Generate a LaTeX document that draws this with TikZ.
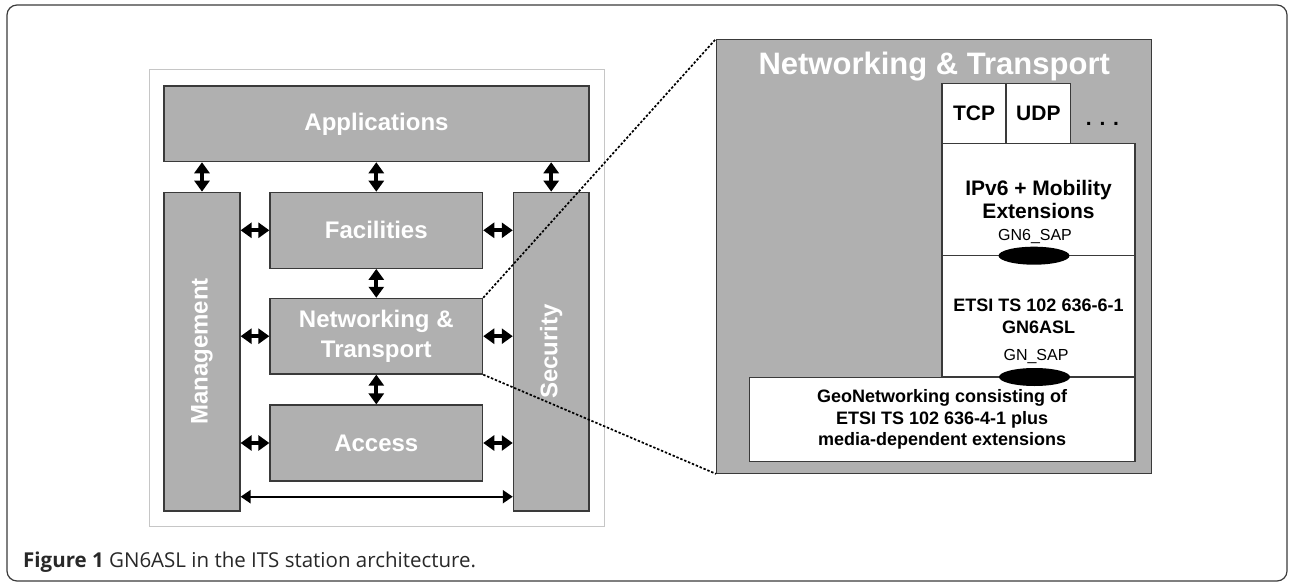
\documentclass[tikz,border=0pt]{standalone}
\usepackage{fontspec}
\setmainfont{Liberation Sans}
\newfontfamily\captionfont{Open Sans}
\usetikzlibrary{arrows.meta, shapes.geometric}

\definecolor{layergray}{RGB}{176,176,176}
\definecolor{edgegray}{RGB}{58,58,58}
\definecolor{captiongray}{RGB}{40,40,40}

\tikzset{
    layer/.style = {draw = edgegray, line width = 1.2pt, fill = layergray, text = white, align = center, inner sep = 0pt, font = \bfseries\fontsize{24}{30}\selectfont},
    stackbox/.style = {draw = edgegray, line width = 1.2pt, fill = white, align = center, inner sep = 0pt, font = \bfseries\fontsize{21}{23.5}\selectfont},
    etsibox/.style = {stackbox, font = \bfseries\fontsize{18}{21.3}\selectfont},
    sap/.style = {ellipse, fill = black, minimum width = 71pt, minimum height = 18pt, inner sep = 0pt},
    saplabel/.style = {inner sep = 0pt, font = \fontsize{16}{18}\selectfont},
    dblarrow/.style = {{Triangle[length = 11pt, width = 15pt]}-{Triangle[length = 11pt, width = 15pt]}, line width = 4pt},
    busarrow/.style = {{Triangle[length = 10pt, width = 13pt]}-{Triangle[length = 10pt, width = 13pt]}, line width = 2.2pt},
    zoomline/.style = {line width = 1.7pt, dash pattern = on 2.4pt off 1.8pt}
}

\begin{document}
\begin{tikzpicture}[x = 1pt, y = -1pt]
    \useasboundingbox (0,0) rectangle (1290,583);

    \draw [edgegray, line width = 1.2pt, rounded corners = 10pt] (7,5) rectangle (1287,581);
    \node [anchor = base west, inner sep = 0pt, text = captiongray, font = \captionfont\fontsize{20.5}{22}\selectfont] (caption) at (23,567) {\textbf{Figure 1} GN6ASL in the ITS station architecture.};

    \draw [gray!45, line width = 1pt] (149.3,70) rectangle (604,526.7);

    \node [layer, minimum width = 425pt, minimum height = 75.7pt] (app) at (376.5,123.8) {Applications};
    \node [layer, rotate = 90, minimum width = 318.7pt, minimum height = 76pt] (mgmt) at (202,351.6) {Management};
    \node [layer, rotate = 90, minimum width = 318.7pt, minimum height = 75.7pt] (sec) at (551.2,351.6) {Security};
    \node [layer, minimum width = 212.7pt, minimum height = 76pt] (fac) at (376.3,230.3) {Facilities};
    \node [layer, minimum width = 212.7pt, minimum height = 75.7pt] (net) at (376.3,336.2) {Networking \&\\Transport};
    \node [layer, minimum width = 212.7pt, minimum height = 76pt] (acc) at (376.3,443) {Access};

    \draw [dblarrow] (app.south -| mgmt.east) -- (mgmt.east);
    \draw [dblarrow] (app.south -| fac.north) -- (fac.north);
    \draw [dblarrow] (app.south -| sec.east) -- (sec.east);
    \draw [dblarrow] (fac.south) -- (net.north);
    \draw [dblarrow] (net.south) -- (acc.north);

    \draw [dblarrow] (mgmt.south |- fac.west) -- (fac.west);
    \draw [dblarrow] (mgmt.south |- net.west) -- (net.west);
    \draw [dblarrow] (mgmt.south |- acc.west) -- (acc.west);
    \draw [dblarrow] (fac.east) -- (sec.north |- fac.east);
    \draw [dblarrow] (net.east) -- (sec.north |- net.east);
    \draw [dblarrow] (acc.east) -- (sec.north |- acc.east);

    \coordinate (bus) at (376.3,496.7);
    \draw [busarrow] (mgmt.south |- bus) -- (sec.north |- bus);

    \node [layer, minimum width = 435pt, minimum height = 434pt] (bignet) at (934.2,256.3) {};
    \node [anchor = base, inner sep = 0pt, text = white, font = \bfseries\fontsize{31}{33}\selectfont] (bigtitle) at (934.2,75) {Networking \& Transport};

    \node [stackbox, minimum width = 64pt, minimum height = 60pt] (tcp) at (974,113.3) {TCP};
    \node [stackbox, minimum width = 64.7pt, minimum height = 60pt] (udp) at (1038.4,113.3) {UDP};
    \node [anchor = base, inner sep = 0pt, font = \bfseries\fontsize{21}{23}\selectfont] (more) at (1102.5,125) {. . .};
    \node [stackbox, minimum width = 193pt, minimum height = 112.4pt] (ipv) at (1038.5,199.5) {IPv6 + Mobility\\Extensions};
    \node [etsibox, minimum width = 193pt, minimum height = 121.3pt] (gnasl) at (1038.5,316.3) {ETSI TS 102 636-6-1\\GN6ASL};
    \node [etsibox, minimum width = 385.7pt, minimum height = 84.4pt] (geo) at (942.2,419.5) {GeoNetworking consisting of\\ETSI TS 102 636-4-1 plus\\media-dependent extensions};

    \node [sap] (sapsix) at (1034,255.7) {};
    \node [saplabel] (sapsixlabel) at (1035,236.7) {GN6\_SAP};
    \node [sap] (sapgn) at (1034.5,377) {};
    \node [saplabel] (sapgnlabel) at (1036,356.7) {GN\_SAP};

    \draw [zoomline] (net.north east) -- (bignet.north west);
    \draw [zoomline] (net.south east) -- (bignet.south west);
\end{tikzpicture}
\end{document}
